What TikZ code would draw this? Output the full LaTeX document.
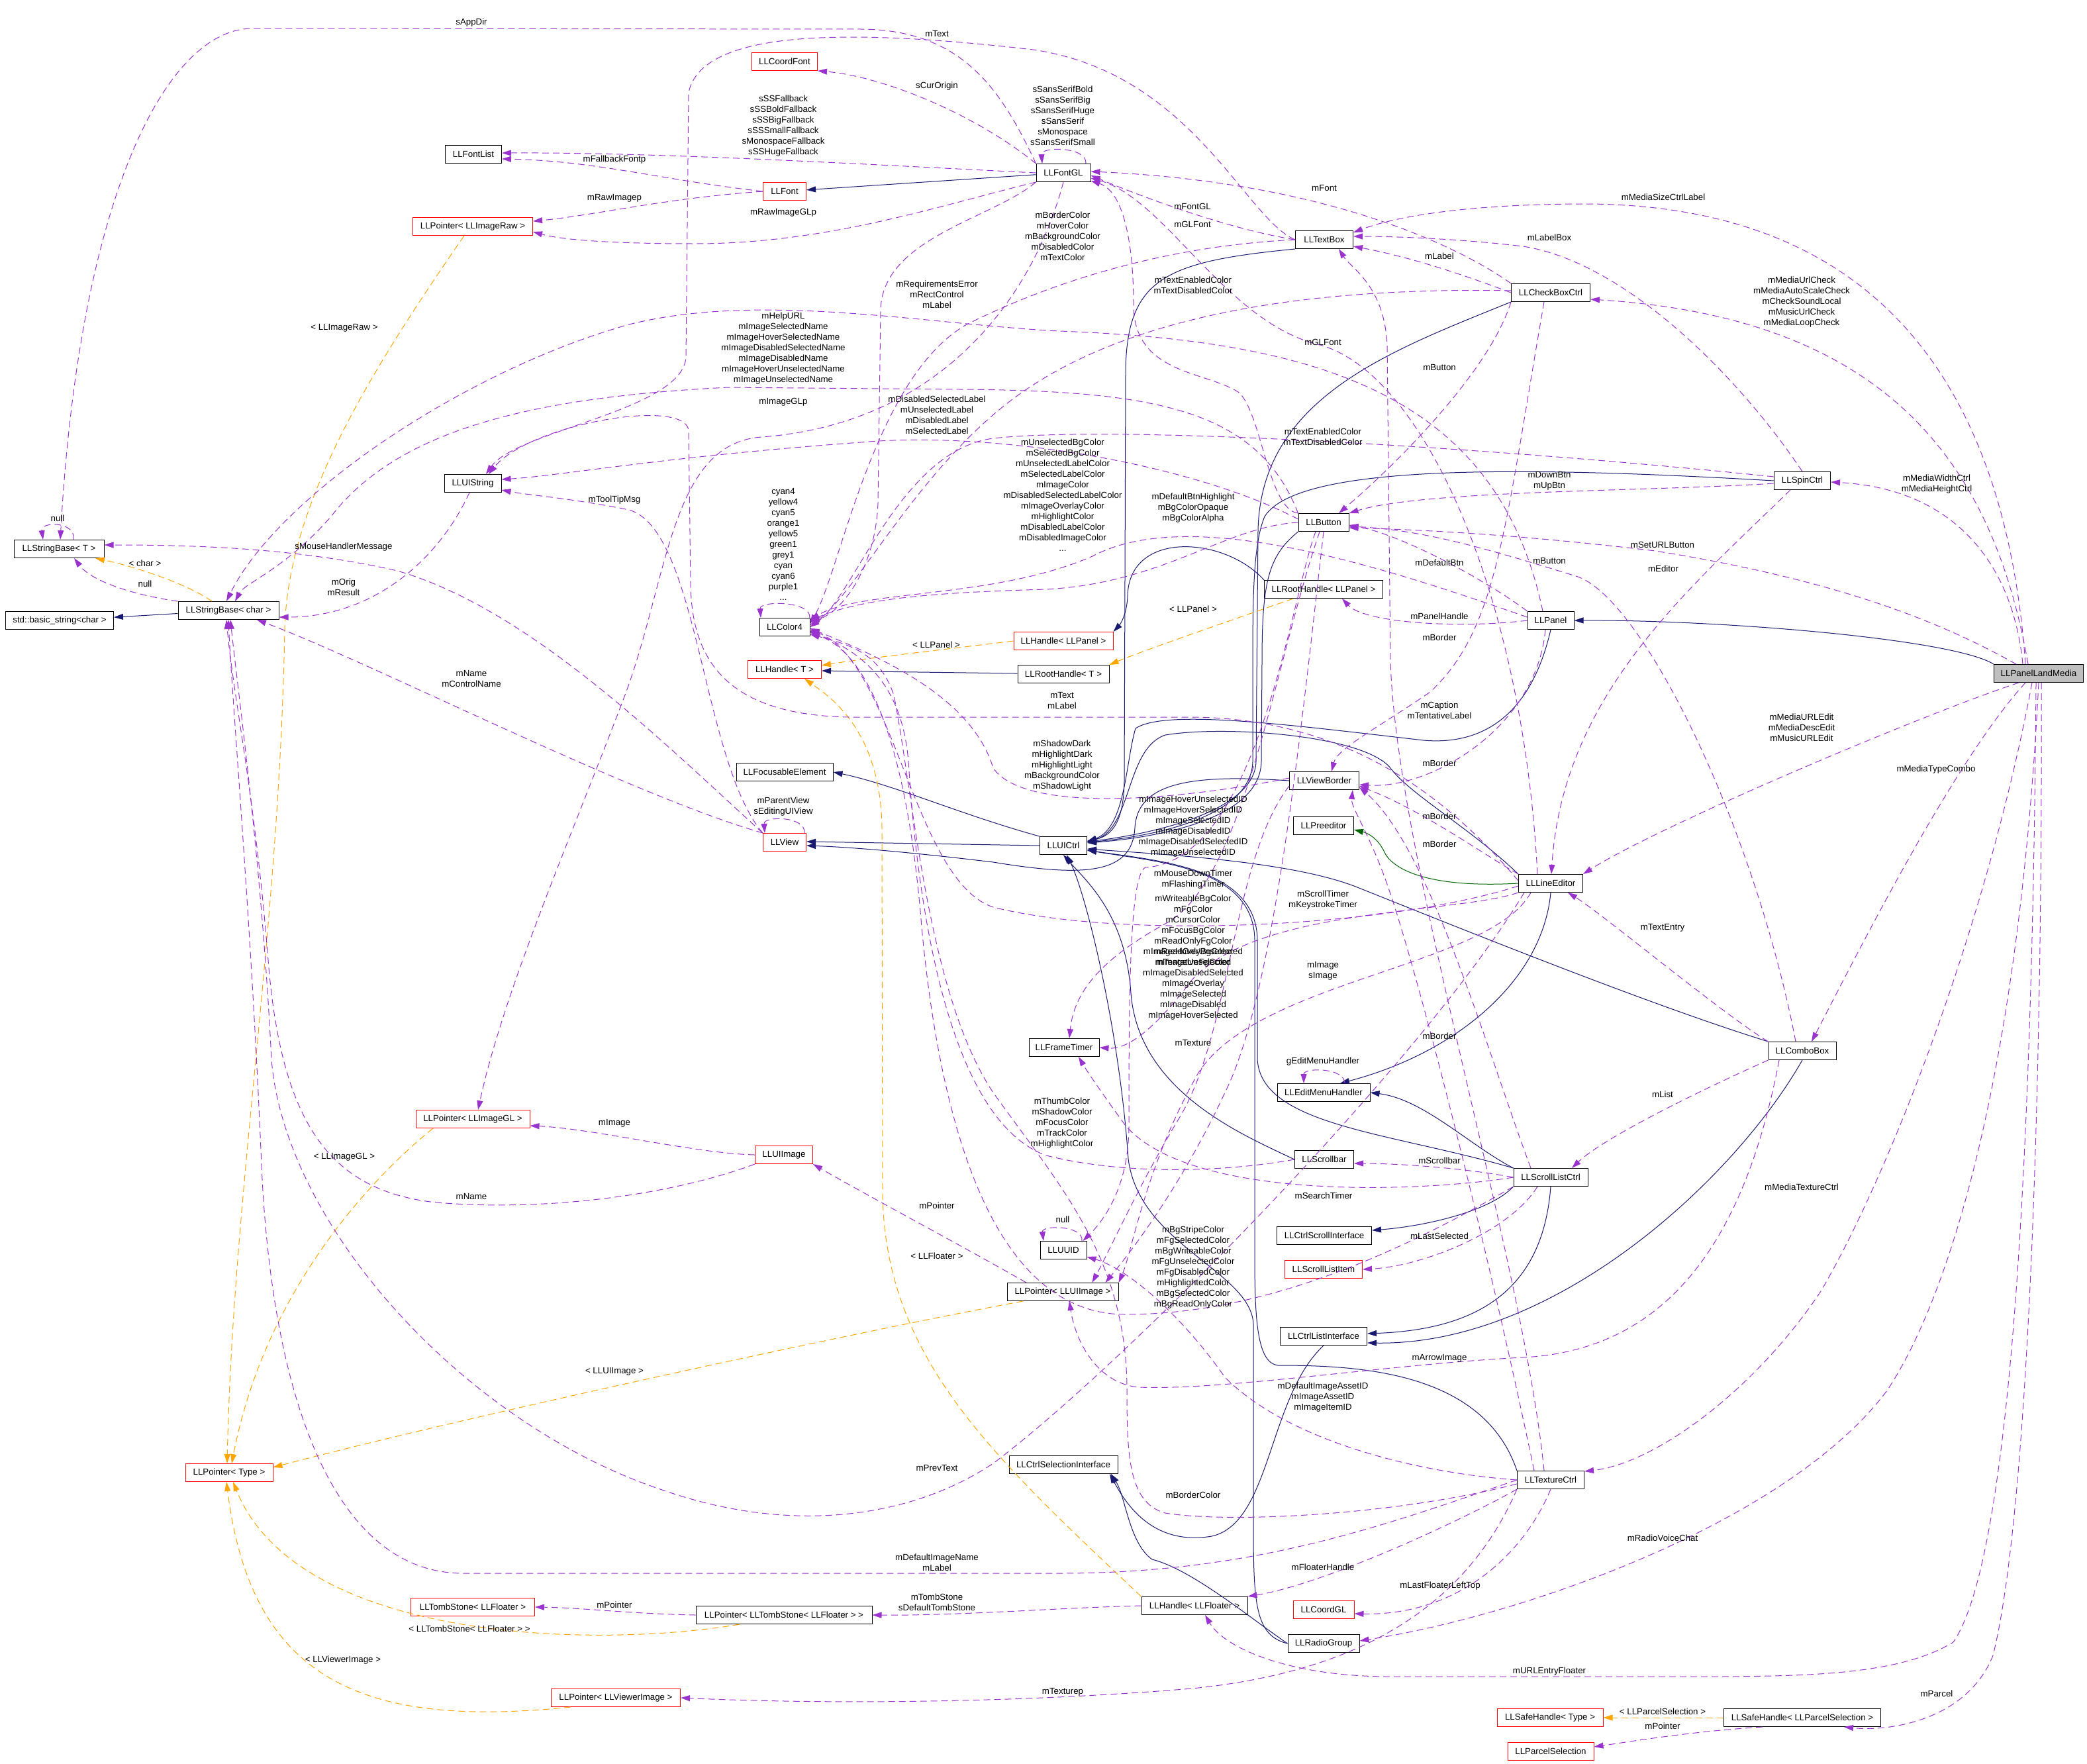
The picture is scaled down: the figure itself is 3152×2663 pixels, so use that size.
\documentclass[tikz,border=0pt]{standalone}
\usepackage{fontspec}
\setmainfont{Liberation Sans}
\usetikzlibrary{arrows.meta}
\definecolor{memc}{HTML}{9A32CD}
\definecolor{inhc}{HTML}{191970}
\definecolor{tplc}{HTML}{FFA500}
\definecolor{protc}{HTML}{006400}
\begin{document}
\begin{tikzpicture}[x=1pt,y=-1pt,font=\fontsize{13.3}{16}\selectfont,
  cls/.style={draw=black,fill=white,line width=1pt,minimum height=27pt,inner xsep=0pt,inner ysep=0pt},
  rcls/.style={cls,draw=red},
  mem/.style={draw=memc,line width=1pt,dash pattern=on 10pt off 6pt,-{Triangle[length=14pt,width=9pt]}},
  tpl/.style={draw=tplc,line width=1pt,dash pattern=on 10pt off 6pt,-{Triangle[length=14pt,width=9pt]}},
  inh/.style={draw=inhc,line width=1pt,-{Triangle[length=14pt,width=9pt]}},
  prot/.style={draw=protc,line width=1pt,-{Triangle[length=14pt,width=9pt]}},
  lbl/.style={align=center,inner sep=0pt}]
\useasboundingbox (0,0) rectangle (3152,2663);
\fill[white] (0,0) rectangle (3152,2663);
% nodes
\node[cls,minimum width=136pt] (SBT) at (89,829) {LLStringBase< T >};
\node[cls,minimum width=152pt] (SBC) at (345,922) {LLStringBase< char >};
\node[cls,minimum width=163pt] (STD) at (90,937) {std::basic\_string<char >};
\node[cls,minimum width=85pt] (FL) at (715,233) {LLFontList};
\node[rcls,minimum width=181pt] (PIR) at (714,342) {LLPointer< LLImageRaw >};
\node[cls,minimum width=86pt] (UIS) at (714,730) {LLUIString};
\node[rcls,minimum width=172pt] (PGL) at (714,1690) {LLPointer< LLImageGL >};
\node[rcls,minimum width=132pt] (PT) at (346,2224) {LLPointer< Type >};
\node[rcls,minimum width=187pt] (TS) at (714,2427) {LLTombStone< LLFloater >};
\node[cls,minimum width=266pt] (PTS) at (1184,2439) {LLPointer< LLTombStone< LLFloater > >};
\node[rcls,minimum width=195pt] (PVI) at (930,2564) {LLPointer< LLViewerImage >};
\node[rcls,minimum width=99pt] (CF) at (1185,93) {LLCoordFont};
\node[rcls,minimum width=65pt] (FNT) at (1185,289) {LLFont};
\node[cls,minimum width=76pt] (C4) at (1185,947) {LLColor4};
\node[rcls,minimum width=111pt] (HT) at (1185,1011) {LLHandle< T >};
\node[cls,minimum width=146pt] (FE) at (1185,1166) {LLFocusableElement};
\node[rcls,minimum width=65pt] (VIEW) at (1185,1272) {LLView};
\node[rcls,minimum width=87pt] (UII) at (1184,1744) {LLUIImage};
\node[cls,minimum width=82pt] (FGL) at (1606,261) {LLFontGL};
\node[rcls,minimum width=150pt] (HP) at (1606,968) {LLHandle< LLPanel >};
\node[cls,minimum width=138pt] (RHT) at (1606,1018) {LLRootHandle< T >};
\node[cls,minimum width=71pt] (UIC) at (1606,1277) {LLUICtrl};
\node[cls,minimum width=106pt] (FT) at (1607,1582) {LLFrameTimer};
\node[cls,minimum width=70pt] (UUID) at (1606,1888) {LLUUID};
\node[cls,minimum width=168pt] (PUI) at (1605,1951) {LLPointer< LLUIImage >};
\node[cls,minimum width=164pt] (CSI) at (1606,2212) {LLCtrlSelectionInterface};
\node[cls,minimum width=160pt] (HF) at (1804,2425) {LLHandle< LLFloater >};
\node[cls,minimum width=87pt] (TB) at (2000,362) {LLTextBox};
\node[cls,minimum width=76pt] (BTN) at (1999,789) {LLButton};
\node[cls,minimum width=179pt] (RHP) at (1999,890) {LLRootHandle< LLPanel >};
\node[cls,minimum width=105pt] (VB) at (2000,1179) {LLViewBorder};
\node[cls,minimum width=91pt] (PRE) at (1999,1247) {LLPreeditor};
\node[cls,minimum width=140pt] (EMH) at (1999,1650) {LLEditMenuHandler};
\node[cls,minimum width=89pt] (SB) at (2000,1751) {LLScrollbar};
\node[cls,minimum width=143pt] (CScI) at (2000,1866) {LLCtrlScrollInterface};
\node[rcls,minimum width=117pt] (SLI) at (1999,1917) {LLScrollListItem};
\node[cls,minimum width=131pt] (CLI) at (1999,2018) {LLCtrlListInterface};
\node[rcls,minimum width=92pt] (CGL) at (1999,2431) {LLCoordGL};
\node[cls,minimum width=108pt] (RG) at (1999,2482) {LLRadioGroup};
\node[cls,minimum width=119pt] (CB) at (2342,442) {LLCheckBoxCtrl};
\node[cls,minimum width=70pt] (PNL) at (2342,937) {LLPanel};
\node[cls,minimum width=97pt] (LE) at (2342,1334) {LLLineEditor};
\node[cls,minimum width=112pt] (SLC) at (2342,1778) {LLScrollListCtrl};
\node[cls,minimum width=101pt] (TC) at (2342,2235) {LLTextureCtrl};
\node[rcls,minimum width=160pt] (SHT) at (2341,2594) {LLSafeHandle< Type >};
\node[rcls,minimum width=130pt] (PS) at (2342,2645) {LLParcelSelection};
\node[cls,minimum width=85pt] (SPIN) at (2722,726) {LLSpinCtrl};
\node[cls,minimum width=102pt] (COMBO) at (2722,1587) {LLComboBox};
\node[cls,minimum width=237pt] (SHP) at (2722,2594) {LLSafeHandle< LLParcelSelection >};
\node[cls,fill=black!25,minimum width=135pt] (PLM) at (3079,1017) {LLPanelLandMedia};
% inheritance
\draw[inh] (FGL) -- (FNT);
\draw[inh] (SBC) -- (STD);
\draw[inh] (PLM.north west) .. controls (2950,965) and (2600,936) .. (PNL.east);
\draw[inh] (RHP.north west) .. controls (1850,810) and (1705,800) .. (1703,900) .. controls (1702,930) and (1690,945) .. (HP.north east);
\draw[inh] (RHT) -- ([yshift=-2pt]HT.east);
\draw[inh] (UIC.west) -- ([yshift=1pt]VIEW.east);
\draw[inh] (UIC.north west) .. controls (1450,1230) and (1350,1185) .. (FE.east);
\draw[inh] (VB.west) .. controls (1790,1168) and (1718,1185) .. (1714,1250) .. controls (1710,1320) and (1640,1325) .. (1500,1302) .. controls (1400,1290) and (1300,1280) .. ([yshift=-5pt]VIEW.east);
\draw[inh] (TB.south west) .. controls (1760,395) and (1702,420) .. (1700,560) -- (1698,1180) .. controls (1697,1240) and (1680,1262) .. ([yshift=7pt]UIC.east);
\draw[inh] (CB.south west) .. controls (2100,530) and (1905,600) .. (1900,800) -- (1897,1150) .. controls (1895,1230) and (1720,1262) .. ([yshift=6pt]UIC.east);
\draw[inh] (SPIN.west) .. controls (2300,704) and (1960,700) .. (1910,780) .. controls (1893,820) and (1892,900) .. (1892,1000) -- (1892,1150) .. controls (1890,1240) and (1720,1265) .. ([yshift=5pt]UIC.east);
\draw[inh] (BTN.south west) .. controls (1915,840) and (1906,880) .. (1906,1000) -- (1905,1150) .. controls (1903,1245) and (1720,1267) .. ([yshift=4pt]UIC.east);
\draw[inh] (PNL.south) .. controls (2310,1090) and (2230,1125) .. (2150,1118) .. controls (1950,1095) and (1760,1070) .. (1715,1100) .. controls (1700,1150) and (1700,1250) .. ([yshift=6pt]UIC.east);
\draw[inh] (LE.north west) .. controls (2220,1250) and (2130,1200) .. (2100,1160) .. controls (2060,1110) and (1850,1095) .. (1760,1110) .. controls (1700,1130) and (1710,1250) .. ([yshift=5pt]UIC.east);
\draw[inh] (COMBO.north west) .. controls (2500,1520) and (2250,1420) .. (2050,1340) .. controls (1950,1300) and (1750,1290) .. ([yshift=-5pt]UIC.east);
\draw[inh] (SLC.north west) .. controls (2100,1710) and (1905,1700) .. (1899,1600) -- (1899,1420) .. controls (1898,1310) and (1750,1300) .. ([yshift=-7pt]UIC.east);
\draw[inh] (SB.west) .. controls (1880,1715) and (1720,1650) .. (1708,1500) .. controls (1700,1380) and (1640,1330) .. (UIC.south);
\draw[inh] (TC.north west) .. controls (2240,2070) and (2050,2062) .. (1930,2062) .. controls (1900,2058) and (1895,2000) .. (1895,1900) -- (1895,1420) .. controls (1894,1310) and (1750,1302) .. ([yshift=-7pt]UIC.east);
\draw[inh] (RG.west) .. controls (1895,2470) and (1893,2420) .. (1893,2300) -- (1893,2000) .. controls (1890,1920) and (1720,1880) .. (1704,1750) .. controls (1690,1550) and (1640,1350) .. ([xshift=5pt]UIC.south);
\draw[inh] (CLI.south) .. controls (1915,2110) and (1920,2300) .. (1830,2320) .. controls (1740,2335) and (1700,2270) .. ([xshift=70pt]CSI.south);
\draw[inh] (RG.west) .. controls (1890,2445) and (1800,2370) .. (1740,2355) .. controls (1705,2330) and (1700,2260) .. ([xshift=72pt]CSI.south);
\draw[inh] (SLC.south west) .. controls (2250,1830) and (2150,1852) .. ([yshift=8pt]CScI.east);
\draw[inh] (SLC.south) .. controls (2330,1950) and (2230,2008) .. ([yshift=4pt]CLI.east);
\draw[inh] (COMBO.south) .. controls (2620,1780) and (2350,2032) .. ([yshift=-10pt]CLI.east);
\draw[inh] (SLC.north west) .. controls (2220,1730) and (2150,1660) .. (EMH.east);
\draw[inh] (LE.south) .. controls (2330,1480) and (2200,1590) .. ([xshift=25pt]EMH.north);
\draw[prot] (LE.west) .. controls (2150,1342) and (2100,1310) .. (2090,1285) .. controls (2080,1265) and (2065,1258) .. ([yshift=-6pt]PRE.east);
% templates
\draw[tpl] ([xshift=-25pt]SBC.north) .. controls (280,880) and (200,855) .. ([xshift=55pt]SBT.south);
\draw[tpl] ([xshift=-13pt]PIR.south) .. controls (560,560) and (435,760) .. (430,950) .. controls (422,1400) and (352,1800) .. ([xshift=-3pt]PT.north);
\draw[tpl] ([xshift=-60pt]PGL.south) .. controls (560,1780) and (400,1950) .. ([xshift=4pt]PT.north);
\draw[tpl] ([xshift=-60pt]PUI.south) .. controls (1300,2010) and (700,2140) .. ([yshift=8pt]PT.east);
\draw[tpl] ([xshift=-67pt]PTS.south) .. controls (900,2490) and (450,2480) .. ([xshift=6pt]PT.south);
\draw[tpl] ([xshift=-68pt]PVI.south) .. controls (550,2610) and (380,2540) .. ([xshift=-4pt]PT.south);
\draw[tpl] (HP.west) .. controls (1450,978) and (1300,995) .. ([yshift=6pt]HT.east);
\draw[tpl] ([xshift=-46pt]RHP.south) .. controls (1850,940) and (1720,985) .. (RHT.north east);
\draw[tpl] (HF.north west) .. controls (1500,2200) and (1335,2050) .. (1333,1800) -- (1332,1250) .. controls (1330,1100) and (1250,1050) .. ([xshift=30pt]HT.south);
\draw[tpl] (SHP.west) -- (SHT.east);
% members: fonts
\draw[mem] (FGL.north west) .. controls (1510,130) and (1450,45) .. (1300,44) -- (380,43) .. controls (250,45) and (120,300) .. ([xshift=2pt]SBT.north);
\draw[mem] (TB.west) .. controls (1880,330) and (1800,110) .. (1560,75) .. controls (1300,45) and (1060,40) .. (1040,140) -- (1036,540) .. controls (1030,620) and (780,650) .. ([xshift=20pt]UIS.north);
\draw[mem] (FGL.north west) .. controls (1470,170) and (1330,115) .. (CF.south east);
\draw[mem] (FGL.west) .. controls (1300,248) and (1000,230) .. ([yshift=2pt]FL.east);
\draw[mem] (FNT.west) .. controls (1000,272) and (900,243) .. ([yshift=-7pt]FL.east);
\draw[mem] (FNT.west) .. controls (1000,300) and (900,325) .. ([yshift=8pt]PIR.east);
\draw[mem] (FGL.south west) .. controls (1420,310) and (1250,368) .. (1050,368) .. controls (900,368) and (840,360) .. ([yshift=-8pt]PIR.east);
\draw[mem] (FGL.south) .. controls (1560,450) and (1420,640) .. (1150,660) .. controls (1010,670) and (1010,880) .. (940,1060) .. controls (860,1270) and (760,1500) .. ([xshift=8pt]PGL.north);
\draw[mem] (FGL.south west) .. controls (1500,330) and (1330,360) .. (1330,470) -- (1326,760) .. controls (1322,860) and (1270,925) .. ([yshift=8pt]C4.east);
\draw[mem] ([xshift=34pt]FGL.north) .. controls +(2,-26) and +(-2,-26) .. ([xshift=-32pt]FGL.north);
% textbox
\draw[mem] (TB.west) .. controls (1850,345) and (1720,295) .. ([yshift=-4pt]FGL.east);
\draw[mem] (TB.west) .. controls (1750,372) and (1580,430) .. (1460,490) .. controls (1320,570) and (1270,860) .. ([yshift=5pt]C4.east);
% checkbox
\draw[mem] (CB.north west) .. controls (2200,370) and (2000,275) .. ([yshift=2pt]FGL.east);
\draw[mem] (CB.west) .. controls (2250,430) and (2150,392) .. ([yshift=-10pt]TB.east);
\draw[mem] ([yshift=3pt]CB.west) .. controls (1900,432) and (1660,500) .. (1520,610) .. controls (1380,720) and (1290,900) .. ([yshift=3pt]C4.east);
\draw[mem] (CB.south west) .. controls (2250,560) and (2110,700) .. ([xshift=23pt]BTN.north);
\draw[mem] ([xshift=-10pt]CB.south) .. controls (2272,800) and (2262,950) .. (2160,1045) .. controls (2080,1100) and (2020,1130) .. ([xshift=11pt]VB.north);
% spin
\draw[mem] (SPIN.north) .. controls (2620,560) and (2450,395) .. (2300,372) .. controls (2200,360) and (2100,357) .. ([yshift=5pt]TB.east);
\draw[mem] ([yshift=-4pt]SPIN.west) .. controls (2500,742) and (2150,740) .. (BTN.north east);
\draw[mem] ([yshift=6pt]SPIN.west) .. controls (2300,680) and (1700,640) .. (1500,662) .. controls (1360,680) and (1290,900) .. (C4.east);
\draw[mem] ([xshift=-18pt]SPIN.south) .. controls (2550,890) and (2360,1050) .. ([xshift=1pt]LE.north);
% button
\draw[mem] (BTN.north west) .. controls (1915,770) and (1905,620) .. (1870,592) .. controls (1820,560) and (1712,565) .. (1712,460) .. controls (1712,380) and (1700,290) .. ([yshift=-12pt]FGL.east);
\draw[mem] (BTN.west) .. controls (1850,795) and (1760,880) .. (1580,890) .. controls (1400,895) and (1300,905) .. ([yshift=10pt]C4.east);
\draw[mem] ([yshift=5pt]BTN.west) .. controls (1800,700) and (1500,650) .. (1300,668) .. controls (1000,690) and (850,718) .. ([yshift=6pt]UIS.east);
\draw[mem] (BTN.north west) .. controls (1900,620) and (1750,590) .. (1450,588) -- (1100,585) .. controls (800,600) and (600,650) .. (500,780) .. controls (430,860) and (370,880) .. ([xshift=10pt]SBC.north);
\draw[mem] ([xshift=-12pt]BTN.south) .. controls (1950,900) and (1900,1300) .. (1730,1310) .. controls (1706,1320) and (1705,1500) .. (1705,1700) .. controls (1705,1800) and (1660,1850) .. ([xshift=-6pt]UUID.north east);
\draw[mem] ([xshift=-6pt]BTN.south) .. controls (1925,1000) and (1880,1330) .. (1760,1395) .. controls (1660,1450) and (1622,1500) .. ([xshift=8pt]FT.north);
\draw[mem] (BTN.south) .. controls (1965,1100) and (1925,1500) .. (1850,1650) .. controls (1780,1800) and (1700,1900) .. ([xshift=-20pt]PUI.north east);
% panel
\draw[mem] (PNL.west) .. controls (2200,950) and (2060,940) .. ([xshift=28pt]RHP.south);
\draw[mem] (PNL.north west) .. controls (2250,880) and (2120,808) .. ([yshift=-4pt]BTN.east);
\draw[mem] ([yshift=5pt]PNL.west) .. controls (2100,860) and (1800,760) .. (1650,840) .. controls (1500,905) and (1300,890) .. ([yshift=11pt]C4.east);
\draw[mem] ([xshift=-12pt]PNL.north) .. controls (2262,600) and (2000,515) .. (1600,500) .. controls (1400,490) and (1150,440) .. (950,490) .. controls (700,560) and (420,750) .. ([xshift=-3pt]SBC.north);
\draw[mem] ([xshift=-8pt]PNL.south) .. controls (2320,1100) and (2160,1192) .. ([yshift=-6pt]VB.east);
% line editor
\draw[mem] ([xshift=-20pt]LE.north) .. controls (2300,900) and (2150,560) .. (1990,520) .. controls (1850,485) and (1760,300) .. ([yshift=-8pt]FGL.east);
\draw[mem] ([yshift=4pt]LE.west) .. controls (2200,1220) and (2050,1085) .. (1800,1083) -- (1300,1083) .. controls (1100,1085) and (1044,1000) .. (1043,880) -- (1040,650) .. controls (1035,600) and (800,640) .. ([xshift=24pt]UIS.north);
\draw[mem] ([yshift=-4pt]LE.west) .. controls (2100,1400) and (1700,1420) .. (1500,1370) .. controls (1380,1330) and (1350,1000) .. ([yshift=-4pt]C4.east);
\draw[mem] (LE.south west) .. controls (2200,1380) and (1900,1370) .. (1800,1480) .. controls (1740,1560) and (1700,1585) .. (FT.east);
\draw[mem] ([xshift=-30pt]LE.south) .. controls (2250,1460) and (1900,1480) .. (1810,1620) .. controls (1730,1760) and (1710,1890) .. (PUI.north east);
\draw[mem] ([xshift=-40pt]LE.south) .. controls (2150,1600) and (1700,2060) .. (1500,2210) .. controls (1380,2290) and (1200,2320) .. (1000,2250) .. controls (700,2150) and (430,1850) .. (410,1600) .. controls (395,1300) and (360,1050) .. ([xshift=3pt]SBC.south);
\draw[mem] (LE.north west) .. controls (2240,1290) and (2150,1225) .. ([yshift=-8pt]VB.east);
% scroll list
\draw[mem] (SLC.west) .. controls (2150,1800) and (1800,1815) .. (1700,1700) .. controls (1660,1645) and (1640,1615) .. ([xshift=22pt]FT.south);
\draw[mem] (SLC.west) .. controls (2200,1762) and (2100,1757) .. ([yshift=-6pt]SB.east);
\draw[mem] ([xshift=-20pt]SLC.south) .. controls (2280,1860) and (2150,1912) .. (SLI.east);
\draw[mem] (SLC.south west) .. controls (2100,1900) and (1900,1985) .. (1700,1985) .. controls (1500,1985) and (1420,1700) .. (1392,1400) .. controls (1372,1150) and (1320,990) .. ([yshift=-8pt]C4.east);
\draw[mem] ([xshift=-30pt]SLC.north) .. controls (2250,1600) and (2160,1280) .. ([yshift=-10pt]VB.east);
\draw[mem] (SB.west) .. controls (1850,1770) and (1700,1775) .. (1580,1745) .. controls (1430,1690) and (1385,1360) .. (1372,1150) .. controls (1362,1030) and (1300,985) .. ([yshift=-6pt]C4.east);
\draw[mem] ([yshift=4pt]VB.west) .. controls (1800,1205) and (1550,1232) .. (1500,1160) .. controls (1470,1060) and (1350,1000) .. ([yshift=-2pt]C4.east);
\draw[mem] ([yshift=-8pt]VB.west) .. controls (1860,1300) and (1860,1560) .. (1780,1690) .. controls (1720,1790) and (1680,1880) .. ([xshift=-40pt]PUI.north east);
% combo
\draw[mem] (COMBO.north west) .. controls (2600,1530) and (2420,1380) .. ([xshift=26pt]LE.south);
\draw[mem] ([xshift=-10pt]COMBO.north) .. controls (2650,1250) and (2480,900) .. (2380,870) .. controls (2250,830) and (2150,800) .. ([yshift=-6pt]BTN.east);
\draw[mem] (COMBO.south west) .. controls (2560,1650) and (2420,1720) .. ([xshift=32pt]SLC.north);
\draw[mem] ([xshift=-35pt]COMBO.south) .. controls (2630,1900) and (2500,2040) .. (2300,2050) .. controls (2100,2060) and (1850,2100) .. (1720,2095) .. controls (1660,2090) and (1625,2030) .. ([xshift=10pt]PUI.south);
% texture ctrl
\draw[mem] (TC.south west) .. controls (2200,2460) and (2000,2530) .. (1800,2550) .. controls (1500,2575) and (1200,2572) .. (PVI.east);
\draw[mem] (TC.west) .. controls (2100,2300) and (1900,2376) .. (1600,2376) -- (700,2376) .. controls (500,2376) and (410,2100) .. (395,1760) .. controls (380,1400) and (350,1050) .. (SBC.south);
\draw[mem] (TC.west) .. controls (2150,2225) and (1950,2180) .. (1850,2080) .. controls (1780,1980) and (1700,1915) .. ([yshift=-10pt]UUID.east);
\draw[mem] ([yshift=-6pt]TC.west) .. controls (2100,2290) and (1850,2300) .. (1760,2285) .. controls (1705,2270) and (1702,2200) .. (1702,2100) .. controls (1702,1900) and (1600,1790) .. (1500,1650) .. controls (1400,1500) and (1380,1200) .. (1350,1050) .. controls (1330,990) and (1290,975) .. ([yshift=-11pt]C4.east);
\draw[mem] (TC.south west) .. controls (2200,2300) and (2000,2392) .. (HF.north east);
\draw[mem] (TC.south) .. controls (2300,2350) and (2200,2440) .. ([yshift=-6pt]CGL.east);
\draw[mem] ([xshift=-10pt]TC.north) .. controls (2300,1900) and (2110,1300) .. (2100,1000) -- (2095,520) .. controls (2090,430) and (2040,405) .. ([xshift=22pt]TB.south);
\draw[mem] ([xshift=-25pt]TC.north) .. controls (2250,1900) and (2150,1500) .. (2100,1350) .. controls (2070,1260) and (2040,1220) .. ([xshift=-10pt]VB.south east);
% misc
\draw[mem] (UII.south west) .. controls (1000,1810) and (800,1830) .. (650,1815) .. controls (500,1795) and (425,1700) .. (405,1450) .. controls (385,1200) and (352,1050) .. ([xshift=-3pt]SBC.south);
\draw[mem] (UII.west) .. controls (1050,1742) and (900,1705) .. ([yshift=-10pt]PGL.east);
\draw[mem] ([xshift=-55pt]PUI.north) .. controls (1450,1880) and (1300,1800) .. (UII.south east);
\draw[mem] (PTS.west) .. controls (950,2437) and (880,2428) .. (TS.east);
\draw[mem] (HF.west) .. controls (1600,2428) and (1450,2440) .. (PTS.east);
\draw[mem] ([xshift=-60pt]SHP.south) .. controls (2550,2615) and (2450,2632) .. ([yshift=7pt]PS.east);
\draw[mem] (VIEW.north west) .. controls (1000,1120) and (800,920) .. (600,862) .. controls (450,828) and (300,823) .. ([yshift=6pt]SBT.east);
\draw[mem] (VIEW.north west) .. controls (950,1200) and (560,1000) .. ([xshift=43pt]SBC.south);
\draw[mem] (VIEW.north west) .. controls (1060,1150) and (1055,800) .. (950,770) .. controls (860,752) and (800,748) .. ([yshift=-10pt]UIS.east);
\draw[mem] ([xshift=30pt]VIEW.north) .. controls +(2,-26) and +(-2,-26) .. ([xshift=-30pt]VIEW.north);
\draw[mem] ([xshift=-5pt]UIS.south) .. controls (660,850) and (560,932) .. ([yshift=-10pt]SBC.east);
\draw[mem] (SBC.north west) .. controls (210,900) and (140,880) .. ([xshift=23pt]SBT.south);
\draw[mem] ([xshift=22pt]SBT.north) .. controls +(4,-28) and +(-4,-28) .. ([xshift=-24pt]SBT.north);
\draw[mem] ([xshift=38pt]C4.north) .. controls +(2,-26) and +(-2,-26) .. ([xshift=-36pt]C4.north);
\draw[mem] ([xshift=28pt]UUID.north) .. controls +(3,-24) and +(-3,-24) .. ([xshift=-30pt]UUID.north);
\draw[mem] ([xshift=32pt]EMH.north) .. controls +(0,-24) and +(0,-24) .. ([xshift=-30pt]EMH.north);
% panel land media
\draw[mem] ([xshift=-20pt]PLM.north) .. controls (3030,600) and (2850,312) .. (2400,308) .. controls (2200,308) and (2100,330) .. ([yshift=11pt]TB.east);
\draw[mem] ([xshift=-16pt]PLM.north) .. controls (3010,700) and (2850,480) .. ([yshift=-10pt]CB.east);
\draw[mem] ([xshift=-24pt]PLM.north) .. controls (3040,850) and (2950,738) .. ([yshift=-2pt]SPIN.east);
\draw[mem] ([xshift=-34pt]PLM.north) .. controls (2950,950) and (2800,880) .. (2500,832) .. controls (2300,808) and (2150,800) .. ([yshift=-8pt]BTN.east);
\draw[mem] ([xshift=-30pt]PLM.south) .. controls (2900,1080) and (2500,1250) .. (LE.north east);
\draw[mem] ([xshift=-20pt]PLM.south) .. controls (2950,1150) and (2800,1450) .. ([xshift=14pt]COMBO.north);
\draw[mem] ([xshift=-10pt]PLM.south) .. controls (3000,1400) and (2850,1780) .. (2750,1950) .. controls (2650,2100) and (2500,2210) .. ([yshift=13pt]TC.east);
\draw[mem] (PLM.south) .. controls (3050,1600) and (2950,1950) .. (2850,2100) .. controls (2700,2300) and (2300,2440) .. ([yshift=4pt]RG.east);
\draw[mem] ([xshift=-4pt]PLM.south) .. controls (3070,1700) and (3040,2350) .. (2950,2480) .. controls (2860,2535) and (2700,2532) .. (2500,2532) -- (2100,2532) .. controls (1950,2532) and (1850,2490) .. ([xshift=16pt]HF.south);
\draw[mem] ([xshift=4pt]PLM.south) .. controls (3085,1700) and (3060,2300) .. (3010,2500) .. controls (2970,2600) and (2850,2615) .. ([xshift=63pt]SHP.south);
% labels
\node[lbl] at (712,34) {sAppDir};
\node[lbl] at (1415,51) {mText};
\node[lbl] at (1415,130) {sCurOrigin};
\node[lbl] at (1183,190) {sSSFallback\\sSSBoldFallback\\sSSBigFallback\\sSSSmallFallback\\sMonospaceFallback\\sSSHugeFallback};
\node[lbl] at (1605,175) {sSansSerifBold\\sSansSerifBig\\sSansSerifHuge\\sSansSerif\\sMonospace\\sSansSerifSmall};
\node[lbl] at (928,241) {mFallbackFontp};
\node[lbl] at (928,299) {mRawImagep};
\node[lbl] at (1183,321) {mRawImageGLp};
\node[lbl] at (2000,284) {mFont};
\node[lbl] at (1801,312) {mFontGL};
\node[lbl] at (1801,339) {mGLFont};
\node[lbl] at (1605,357) {mBorderColor\\mHoverColor\\mBackgroundColor\\mDisabledColor\\mTextColor};
\node[lbl] at (2340,359) {mLabelBox};
\node[lbl] at (2174,387) {mLabel};
\node[lbl] at (2512,298) {mMediaSizeCtrlLabel};
\node[lbl] at (1802,431) {mTextEnabledColor\\mTextDisabledColor};
\node[lbl] at (2721,456) {mMediaUrlCheck\\mMediaAutoScaleCheck\\mCheckSoundLocal\\mMusicUrlCheck\\mMediaLoopCheck};
\node[lbl] at (1415,445) {mRequirementsError\\mRectControl\\mLabel};
\node[lbl] at (1183,526) {mHelpURL\\mImageSelectedName\\mImageHoverSelectedName\\mImageDisabledSelectedName\\mImageDisabledName\\mImageHoverUnselectedName\\mImageUnselectedName};
\node[lbl] at (1998,517) {mGLFont};
\node[lbl] at (2174,555) {mButton};
\node[lbl] at (1183,607) {mImageGLp};
\node[lbl] at (1415,627) {mDisabledSelectedLabel\\mUnselectedLabel\\mDisabledLabel\\mSelectedLabel};
\node[lbl] at (1998,660) {mTextEnabledColor\\mTextDisabledColor};
\node[lbl] at (1605,748) {mUnselectedBgColor\\mSelectedBgColor\\mUnselectedLabelColor\\mSelectedLabelColor\\mImageColor\\mDisabledSelectedLabelColor\\mImageOverlayColor\\mHighlightColor\\mDisabledLabelColor\\mDisabledImageColor\\...};
\node[lbl] at (2340,726) {mDownBtn\\mUpBtn};
\node[lbl] at (2925,731) {mMediaWidthCtrl\\mMediaHeightCtrl};
\node[lbl] at (1183,822) {cyan4\\yellow4\\cyan5\\orange1\\yellow5\\green1\\grey1\\cyan\\cyan6\\purple1\\...};
\node[lbl] at (1802,767) {mDefaultBtnHighlight\\mBgColorOpaque\\mBgColorAlpha};
\node[lbl] at (928,755) {mToolTipMsg};
\node[lbl] at (2511,823) {mSetURLButton};
\node[lbl] at (2174,850) {mDefaultBtn};
\node[lbl] at (2340,847) {mButton};
\node[lbl] at (2512,859) {mEditor};
\node[lbl] at (519,826) {sMouseHandlerMessage};
\node[lbl] at (219,851) {< char >};
\node[lbl] at (219,882) {null};
\node[lbl] at (519,887) {mOrig\\mResult};
\node[lbl] at (87,783) {null};
\node[lbl] at (520,495) {< LLImageRaw >};
\node[lbl] at (2174,931) {mPanelHandle};
\node[lbl] at (1802,920) {< LLPanel >};
\node[lbl] at (2174,963) {mBorder};
\node[lbl] at (1414,974) {< LLPanel >};
\node[lbl] at (712,1025) {mName\\mControlName};
\node[lbl] at (1604,1058) {mText\\mLabel};
\node[lbl] at (2174,1073) {mCaption\\mTentativeLabel};
\node[lbl] at (2721,1099) {mMediaURLEdit\\mMediaDescEdit\\mMusicURLEdit};
\node[lbl] at (1604,1156) {mShadowDark\\mHighlightDark\\mHighlightLight\\mBackgroundColor\\mShadowLight};
\node[lbl] at (2174,1153) {mBorder};
\node[lbl] at (2924,1162) {mMediaTypeCombo};
\node[lbl] at (1183,1218) {mParentView\\sEditingUIView};
\node[lbl] at (1802,1248) {mImageHoverUnselectedID\\mImageHoverSelectedID\\mImageSelectedID\\mImageDisabledID\\mImageDisabledSelectedID\\mImageUnselectedID};
\node[lbl] at (2174,1233) {mBorder};
\node[lbl] at (2174,1275) {mBorder};
\node[lbl] at (1802,1328) {mMouseDownTimer\\mFlashingTimer};
\node[lbl] at (1998,1359) {mScrollTimer\\mKeystrokeTimer};
\node[lbl] at (1802,1406) {mWriteableBgColor\\mFgColor\\mCursorColor\\mFocusBgColor\\mReadOnlyFgColor\\mReadOnlyBgColor\\mTentativeFgColor};
\node[lbl] at (1802,1486) {mImageHoverUnselected\\mImageUnselected\\mImageDisabledSelected\\mImageOverlay\\mImageSelected\\mImageDisabled\\mImageHoverSelected};
\node[lbl] at (2511,1401) {mTextEntry};
\node[lbl] at (1998,1466) {mImage\\sImage};
\node[lbl] at (2174,1565) {mBorder};
\node[lbl] at (1802,1575) {mTexture};
\node[lbl] at (1998,1603) {gEditMenuHandler};
\node[lbl] at (2511,1653) {mList};
\node[lbl] at (1604,1696) {mThumbColor\\mShadowColor\\mFocusColor\\mTrackColor\\mHighlightColor};
\node[lbl] at (928,1696) {mImage};
\node[lbl] at (520,1747) {< LLImageGL >};
\node[lbl] at (2174,1753) {mScrollbar};
\node[lbl] at (2721,1793) {mMediaTextureCtrl};
\node[lbl] at (1999,1806) {mSearchTimer};
\node[lbl] at (712,1807) {mName};
\node[lbl] at (1415,1821) {mPointer};
\node[lbl] at (1605,1842) {null};
\node[lbl] at (1802,1914) {mBgStripeColor\\mFgSelectedColor\\mBgWriteableColor\\mFgUnselectedColor\\mFgDisabledColor\\mHighlightedColor\\mBgSelectedColor\\mBgReadOnlyColor};
\node[lbl] at (2174,1867) {mLastSelected};
\node[lbl] at (1415,1897) {< LLFloater >};
\node[lbl] at (2174,2051) {mArrowImage};
\node[lbl] at (928,2071) {< LLUIImage >};
\node[lbl] at (1998,2110) {mDefaultImageAssetID\\mImageAssetID\\mImageItemID};
\node[lbl] at (1415,2217) {mPrevText};
\node[lbl] at (1802,2258) {mBorderColor};
\node[lbl] at (2511,2323) {mRadioVoiceChat};
\node[lbl] at (1415,2360) {mDefaultImageName\\mLabel};
\node[lbl] at (1998,2367) {mFloaterHandle};
\node[lbl] at (2175,2395) {mLastFloaterLeftTop};
\node[lbl] at (1415,2420) {mTombStone\\sDefaultTombStone};
\node[lbl] at (928,2424) {mPointer};
\node[lbl] at (709,2460) {< LLTombStone< LLFloater > >};
\node[lbl] at (518,2507) {< LLViewerImage >};
\node[lbl] at (2340,2524) {mURLEntryFloater};
\node[lbl] at (1605,2555) {mTexturep};
\node[lbl] at (2925,2558) {mParcel};
\node[lbl] at (2511,2585) {< LLParcelSelection >};
\node[lbl] at (2511,2607) {mPointer};
\end{tikzpicture}
\end{document}
